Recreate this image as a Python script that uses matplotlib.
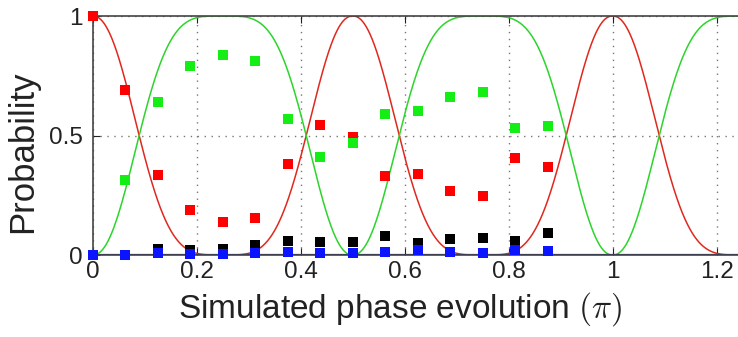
import numpy as np
import matplotlib
matplotlib.use('Agg')
import matplotlib.pyplot as plt

plt.rcParams['font.family'] = ['Liberation Sans', 'DejaVu Sans']
plt.rcParams['mathtext.fontset'] = 'cm'

# measured points (x in units of pi)
phase = [0, 0.0625, 0.125, 0.1875, 0.25, 0.3125, 0.375, 0.4375,
         0.5, 0.5625, 0.625, 0.6875, 0.75, 0.8125, 0.875]
p_red = [1.0, 0.69, 0.335, 0.188, 0.139, 0.153, 0.379, 0.543,
         0.492, 0.332, 0.338, 0.269, 0.247, 0.405, 0.367]
p_green = [0.0, 0.314, 0.641, 0.791, 0.837, 0.812, 0.568, 0.409,
           0.467, 0.589, 0.604, 0.660, 0.683, 0.533, 0.541]
p_black = [0.0, 0.0, 0.025, 0.02, 0.025, 0.042, 0.058, 0.053,
           0.053, 0.079, 0.052, 0.067, 0.072, 0.058, 0.091]
p_blue = [0.0, 0.002, 0.01, 0.005, 0.005, 0.007, 0.014, 0.007,
          0.01, 0.012, 0.021, 0.014, 0.01, 0.021, 0.017]

x_ticks = [0, 0.2, 0.4, 0.6, 0.8, 1, 1.2]
x_ticklabels = ['0', '0.2', '0.4', '0.6', '0.8', '1', '1.2']
y_ticks = [0, 0.5, 1]
y_ticklabels = ['0', '0.5', '1']

# ideal (theory) curves
shape_exp = 1.1
xt = np.linspace(0, 1.25, 1500)
theta = np.pi / 2 * np.abs(np.sin(2 * np.pi * xt)) ** shape_exp
th_red = np.cos(theta) ** 2
th_green = np.sin(theta) ** 2

fig = plt.figure(figsize=(7.38, 3.37), dpi=100)
ax = fig.add_axes([0.1256, 0.2433, 0.8744, 0.7092])

ax.plot(xt, th_red, color='#e0281e', lw=1.1, zorder=2)
ax.plot(xt, th_green, color='#2cd42c', lw=1.1, zorder=2)
ax.axhline(0, color='#2a2a9a', lw=1.6, zorder=2.5)

ms = 7.8
ax.plot(phase, p_red, 's', color='#ff0000', ms=ms, mew=0, zorder=3, clip_on=False)
ax.plot(phase, p_green, 's', color='#14ee14', ms=ms, mew=0, zorder=3, clip_on=False)
ax.plot(phase, p_black, 's', color='#000000', ms=ms, mew=0, zorder=3, clip_on=False)
ax.plot(phase, p_blue, 's', color='#0a14ff', ms=ms, mew=0, zorder=3, clip_on=False)

ax.set_xlim(0, 1.241)
ax.set_ylim(0, 1)
ax.set_xticks(x_ticks)
ax.set_xticklabels(x_ticklabels)
ax.set_yticks(y_ticks)
ax.set_yticklabels(y_ticklabels)
ax.grid(True, linestyle=(0, (1, 4)), color='#777777', lw=1.0)
ax.tick_params(direction='in', top=True, right=False, length=5,
               labelsize=17.5, colors='#222222')
ax.tick_params(axis='x', pad=4)
ax.tick_params(axis='y', pad=7)

for s in ['right']:
    ax.spines[s].set_visible(False)
for s in ['left', 'top', 'bottom']:
    ax.spines[s].set_color('#444444')
    ax.spines[s].set_linewidth(1.2)

ax.set_xlabel('Simulated phase evolution $(\\pi)$', fontsize=24, color='#222222')
ax.set_ylabel('Probability', fontsize=25, color='#222222')
ax.xaxis.set_label_coords(0.477, -0.145)
ax.yaxis.set_label_coords(-0.083, 0.43)

fig.savefig('out.png', dpi=100)
